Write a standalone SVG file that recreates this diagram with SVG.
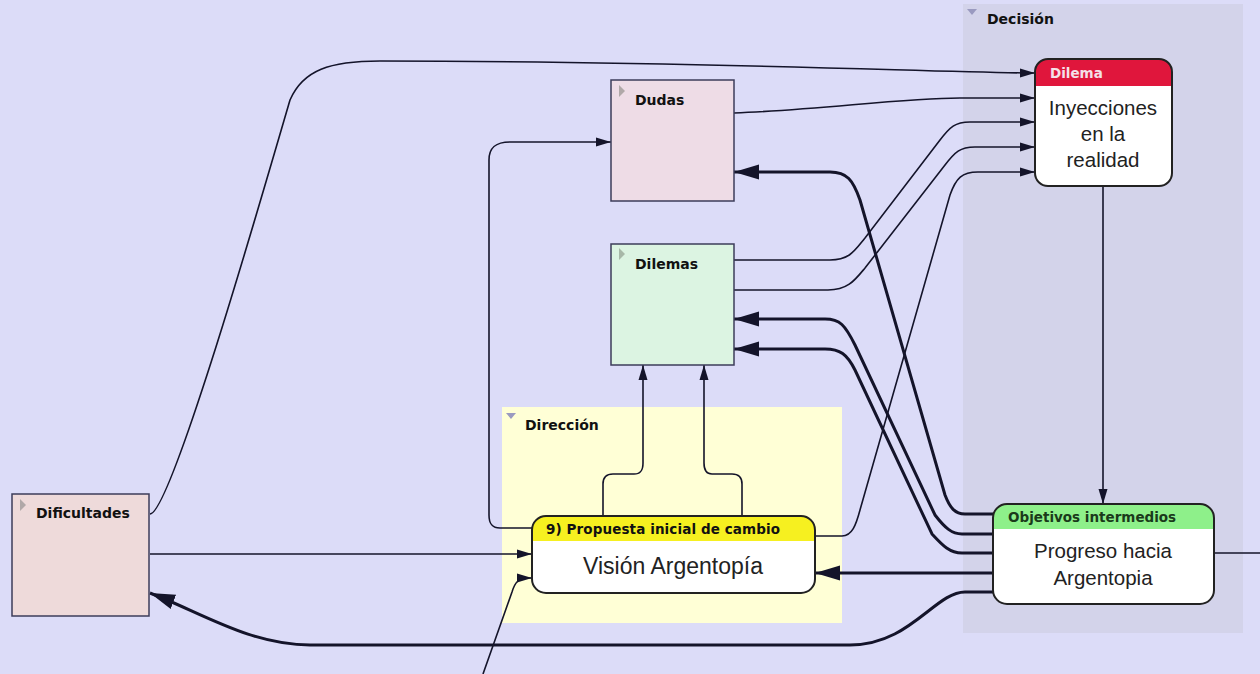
<svg xmlns="http://www.w3.org/2000/svg" width="1260" height="674" viewBox="0 0 1260 674">
<defs>
<style>
.lbl{font-family:"DejaVu Sans","Liberation Sans",sans-serif;font-weight:bold;font-size:14px;fill:#111}
.hdr{font-family:"DejaVu Sans","Liberation Sans",sans-serif;font-weight:bold;font-size:13.5px}
.body{font-family:"Liberation Sans",Arial,sans-serif;font-size:20.5px;fill:#222;text-anchor:middle}
.box{stroke:#3c3c5a;stroke-width:1.5}
.node{stroke:#222;stroke-width:2}
.c{fill:none;stroke:#14142a;stroke-width:1.6}
.t{fill:none;stroke:#14142a;stroke-width:3}
.tri{fill:#9a9ac0}
.tri2{fill:#b0a8a8}
</style>
<marker id="a" markerUnits="userSpaceOnUse" markerWidth="16" markerHeight="10" refX="15" refY="5" orient="auto"><path d="M0,0.5 L15,5 L0,9.5 z" fill="#14142a"/></marker>
<marker id="A" markerUnits="userSpaceOnUse" markerWidth="26" markerHeight="16" refX="25" refY="8" orient="auto"><path d="M0,0.5 L25,8 L0,15.5 z" fill="#14142a"/></marker>
<clipPath id="cd"><rect x="1035" y="59" width="137" height="127" rx="13"/></clipPath>
<clipPath id="cp"><rect x="532" y="516" width="283" height="77" rx="14"/></clipPath>
<clipPath id="co"><rect x="993" y="504" width="221" height="100" rx="14"/></clipPath>
</defs>
<rect x="0" y="0" width="1260" height="674" fill="#dcdcf8"/>

<g id="decision-group">
<rect x="963" y="4" width="280" height="629" fill="#d3d3ea"/>
<path d="M967,9 L977,9 L972,15 z" class="tri"/>
<text x="987" y="24" class="lbl">Decisión</text>
</g>
<g id="direccion-group">
<rect x="502" y="407" width="340" height="216" fill="#ffffd6"/>
<path d="M506,413 L516,413 L511,419 z" class="tri"/>
<text x="525" y="430" class="lbl">Dirección</text>
</g>

<g id="connectors">
<path class="c" d="M150,514 C170,514 255,220 290,100 C303,70 330,61 380,61 C700,61 950,73 1035,73" marker-end="url(#a)"/>
<path class="c" d="M734,113 C820,110 900,98 960,98 L1035,98" marker-end="url(#a)"/>
<path class="c" d="M734,260 L830,260 C850,260 855,250 865,238 L940,140 C950,127 955,122 970,122 L1035,122" marker-end="url(#a)"/>
<path class="c" d="M734,290 L828,290 C848,290 855,280 865,268 L945,165 C955,152 960,147 975,147 L1035,147" marker-end="url(#a)"/>
<path class="c" d="M815,536 L842,536 C852,536 856,525 860,510 L950,195 C956,178 962,172 978,172 L1035,172" marker-end="url(#a)"/>
<path class="c" d="M1103,186 L1103,504" marker-end="url(#a)"/>
<path class="t" d="M993,514 L965,514 C955,514 950,508 945,495 L860,200 C853,180 847,172 830,172 L734,172" marker-end="url(#A)"/>
<path class="t" d="M993,534 L962,534 C952,534 945,528 935,515 L855,345 C845,325 840,319 825,319 L734,319" marker-end="url(#A)"/>
<path class="t" d="M993,553 L962,553 C950,553 943,546 932,534 L855,370 C847,354 840,349 825,349 L734,349" marker-end="url(#A)"/>
<path class="t" d="M993,573 L815,573" marker-end="url(#A)"/>
<path class="t" d="M993,592 L965,592 C935,592 910,645 850,645 L310,645 C250,645 200,612 150,593" marker-end="url(#A)"/>
<path class="c" d="M150,554 L532,554" marker-end="url(#a)"/>
<path class="c" d="M483,674 L512,592 C515,582 519,578 527,578 L532,578" marker-end="url(#a)"/>
<path class="c" d="M532,528 L500,528 C492,528 489,524 489,515 L489,160 C489,148 495,142 510,142 L611,142" marker-end="url(#a)"/>
<path class="c" d="M603,516 L603,484 C603,477 606,474 613,474 L634,474 C641,474 643,470 643,463 L643,365" marker-end="url(#a)"/>
<path class="c" d="M742,516 L742,484 C742,477 739,474 732,474 L712,474 C706,474 704,470 704,463 L704,365" marker-end="url(#a)"/>
<path class="c" d="M1214,553 L1260,553"/>
</g>

<g id="dudas">
<rect x="611" y="80" width="123" height="121" fill="#eedce6" class="box"/>
<path d="M619,85 L625,91 L619,97 z" class="tri2"/>
<text x="635" y="105" class="lbl">Dudas</text>
</g>
<g id="dilemas">
<rect x="611" y="244" width="123" height="121" fill="#dcf4e2" class="box"/>
<path d="M619,248 L625,254 L619,260 z" fill="#a8b8a8"/>
<text x="635" y="269" class="lbl">Dilemas</text>
</g>
<g id="dificultades">
<rect x="12" y="494" width="137" height="122" fill="#eedada" class="box"/>
<path d="M20,499 L26,505 L20,511 z" class="tri2"/>
<text x="36" y="518" class="lbl">Dificultades</text>
</g>

<g id="dilema">
<g clip-path="url(#cd)">
<rect x="1035" y="59" width="137" height="127" fill="#ffffff"/>
<rect x="1035" y="59" width="137" height="27" fill="#e0163c"/>
</g>
<rect x="1035" y="59" width="137" height="127" rx="13" fill="none" class="node"/>
<text x="1050" y="78" class="hdr" fill="#f4e0e8">Dilema</text>
<text x="1103" y="115" class="body">Inyecciones</text>
<text x="1103" y="141" class="body">en la</text>
<text x="1103" y="167" class="body">realidad</text>
</g>

<g id="propuesta">
<g clip-path="url(#cp)">
<rect x="532" y="516" width="283" height="77" fill="#ffffff"/>
<rect x="532" y="516" width="283" height="25" fill="#f6f020"/>
</g>
<rect x="532" y="516" width="283" height="77" rx="14" fill="none" class="node"/>
<text x="546" y="534" class="hdr" fill="#111" textLength="234">9) Propuesta inicial de cambio</text>
<text x="673" y="574" class="body" style="font-size:23px">Visión Argentopía</text>
</g>

<g id="objetivos">
<g clip-path="url(#co)">
<rect x="993" y="504" width="221" height="100" fill="#ffffff"/>
<rect x="993" y="504" width="221" height="25" fill="#8ef08a"/>
</g>
<rect x="993" y="504" width="221" height="100" rx="14" fill="none" class="node"/>
<text x="1008" y="522" class="hdr" fill="#1a3a1a">Objetivos intermedios</text>
<text x="1103" y="558" class="body">Progreso hacia</text>
<text x="1103" y="585" class="body">Argentopia</text>
</g>
</svg>
